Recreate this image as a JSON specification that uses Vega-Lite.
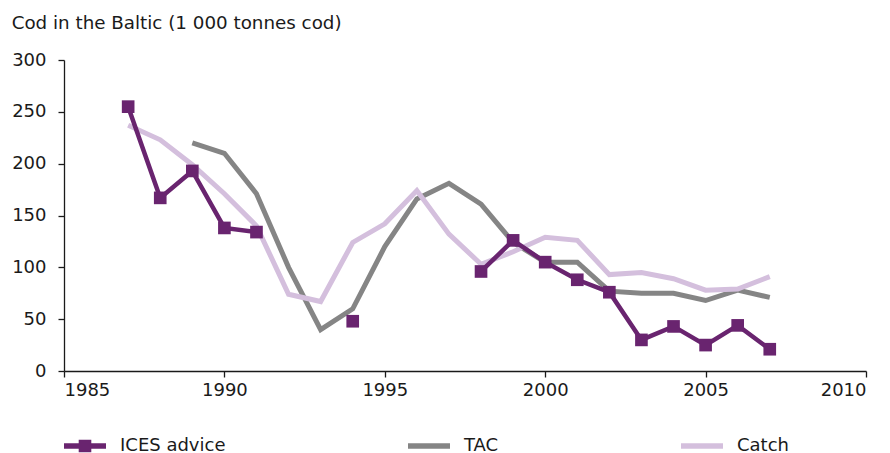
{
  "$schema": "https://vega.github.io/schema/vega-lite/v6.json",
  "autosize": "none",
  "width": 802,
  "height": 311,
  "padding": {"left": 64, "top": 60, "right": 24, "bottom": 82},
  "background": "white",
  "title": {"text": "Cod in the Baltic (1 000 tonnes cod)", "anchor": "start", "frame": "bounds", "font": "DejaVu Sans", "fontSize": 18.3, "fontWeight": "normal", "color": "#1a1a1a", "offset": 18},
  "config": {
    "view": {"stroke": null},
    "axis": {"labelFont": "DejaVu Sans", "labelFontSize": 18, "labelColor": "#1a1a1a", "domainColor": "#1a1a1a", "tickColor": "#1a1a1a", "grid": false, "title": null, "tickSize": 6, "domainWidth": 1.3, "tickWidth": 1.3},
    "legend": {"labelFont": "DejaVu Sans", "labelFontSize": 18, "labelColor": "#1a1a1a"}
  },
  "data": {"values": [
    {"year": 1987, "series": "ICES advice", "value": 255},
    {"year": 1988, "series": "ICES advice", "value": 167},
    {"year": 1989, "series": "ICES advice", "value": 193},
    {"year": 1990, "series": "ICES advice", "value": 138},
    {"year": 1991, "series": "ICES advice", "value": 134},
    {"year": 1992, "series": "ICES advice", "value": null},
    {"year": 1993, "series": "ICES advice", "value": null},
    {"year": 1994, "series": "ICES advice", "value": 48},
    {"year": 1995, "series": "ICES advice", "value": null},
    {"year": 1996, "series": "ICES advice", "value": null},
    {"year": 1997, "series": "ICES advice", "value": null},
    {"year": 1998, "series": "ICES advice", "value": 96},
    {"year": 1999, "series": "ICES advice", "value": 126},
    {"year": 2000, "series": "ICES advice", "value": 105},
    {"year": 2001, "series": "ICES advice", "value": 88},
    {"year": 2002, "series": "ICES advice", "value": 76},
    {"year": 2003, "series": "ICES advice", "value": 30},
    {"year": 2004, "series": "ICES advice", "value": 43},
    {"year": 2005, "series": "ICES advice", "value": 25},
    {"year": 2006, "series": "ICES advice", "value": 44},
    {"year": 2007, "series": "ICES advice", "value": 21},
    {"year": 1989, "series": "TAC", "value": 220},
    {"year": 1990, "series": "TAC", "value": 210},
    {"year": 1991, "series": "TAC", "value": 171},
    {"year": 1992, "series": "TAC", "value": 100},
    {"year": 1993, "series": "TAC", "value": 40},
    {"year": 1994, "series": "TAC", "value": 60},
    {"year": 1995, "series": "TAC", "value": 120},
    {"year": 1996, "series": "TAC", "value": 166},
    {"year": 1997, "series": "TAC", "value": 181},
    {"year": 1998, "series": "TAC", "value": 161},
    {"year": 1999, "series": "TAC", "value": 124},
    {"year": 2000, "series": "TAC", "value": 105},
    {"year": 2001, "series": "TAC", "value": 105},
    {"year": 2002, "series": "TAC", "value": 77},
    {"year": 2003, "series": "TAC", "value": 75},
    {"year": 2004, "series": "TAC", "value": 75},
    {"year": 2005, "series": "TAC", "value": 68},
    {"year": 2006, "series": "TAC", "value": 78},
    {"year": 2007, "series": "TAC", "value": 71},
    {"year": 1987, "series": "Catch", "value": 237},
    {"year": 1988, "series": "Catch", "value": 223},
    {"year": 1989, "series": "Catch", "value": 199},
    {"year": 1990, "series": "Catch", "value": 171},
    {"year": 1991, "series": "Catch", "value": 140},
    {"year": 1992, "series": "Catch", "value": 74},
    {"year": 1993, "series": "Catch", "value": 67},
    {"year": 1994, "series": "Catch", "value": 124},
    {"year": 1995, "series": "Catch", "value": 142},
    {"year": 1996, "series": "Catch", "value": 174},
    {"year": 1997, "series": "Catch", "value": 132},
    {"year": 1998, "series": "Catch", "value": 103},
    {"year": 1999, "series": "Catch", "value": 115},
    {"year": 2000, "series": "Catch", "value": 129},
    {"year": 2001, "series": "Catch", "value": 126},
    {"year": 2002, "series": "Catch", "value": 93},
    {"year": 2003, "series": "Catch", "value": 95},
    {"year": 2004, "series": "Catch", "value": 89},
    {"year": 2005, "series": "Catch", "value": 78},
    {"year": 2006, "series": "Catch", "value": 79},
    {"year": 2007, "series": "Catch", "value": 91}
  ]},
  "encoding": {
    "x": {"field": "year", "type": "quantitative", "scale": {"domain": [1985, 2010], "nice": false, "zero": false}, "axis": {"values": [1985, 1990, 1995, 2000, 2005, 2010], "format": "d", "labelPadding": 4}},
    "y": {"field": "value", "type": "quantitative", "scale": {"domain": [0, 300], "nice": false}, "axis": {"values": [0, 50, 100, 150, 200, 250, 300], "labelPadding": 12}},
    "color": {"field": "series", "type": "nominal", "scale": {"domain": ["ICES advice", "TAC", "Catch"], "range": ["#69246f", "#858585", "#d4bfdd"]},
      "legend": {"title": null, "orient": "bottom", "direction": "horizontal", "columns": 3, "columnPadding": 182, "symbolSize": 1764, "labelOffset": 14, "offset": 26, "padding": 0,
        "encode": {"symbols": {"update": {
          "shape": {"signal": "datum.value === 'ICES advice' ? 'M-1,-0.13H1V0.13H-1Z M-0.3,-0.3H0.3V0.3H-0.3Z' : 'M-1,-0.13H1V0.13H-1Z'"},
          "fill": {"scale": "color", "field": "value"},
          "strokeWidth": {"value": 0},
          "opacity": {"value": 1}
        }}}}}
  },
  "layer": [
    {"transform": [{"filter": "datum.series === 'TAC'"}], "mark": {"type": "line", "strokeWidth": 5, "invalid": "break-paths-show-domains"}},
    {"transform": [{"filter": "datum.series === 'Catch'"}], "mark": {"type": "line", "strokeWidth": 5, "invalid": "break-paths-show-domains"}},
    {"transform": [{"filter": "datum.series === 'ICES advice'"}], "mark": {"type": "line", "strokeWidth": 4.5, "invalid": "break-paths-show-domains"}},
    {"transform": [{"filter": "datum.series === 'ICES advice' && datum.value !== null"}], "mark": {"type": "square", "size": 160, "opacity": 1, "filled": true}}
  ]
}
